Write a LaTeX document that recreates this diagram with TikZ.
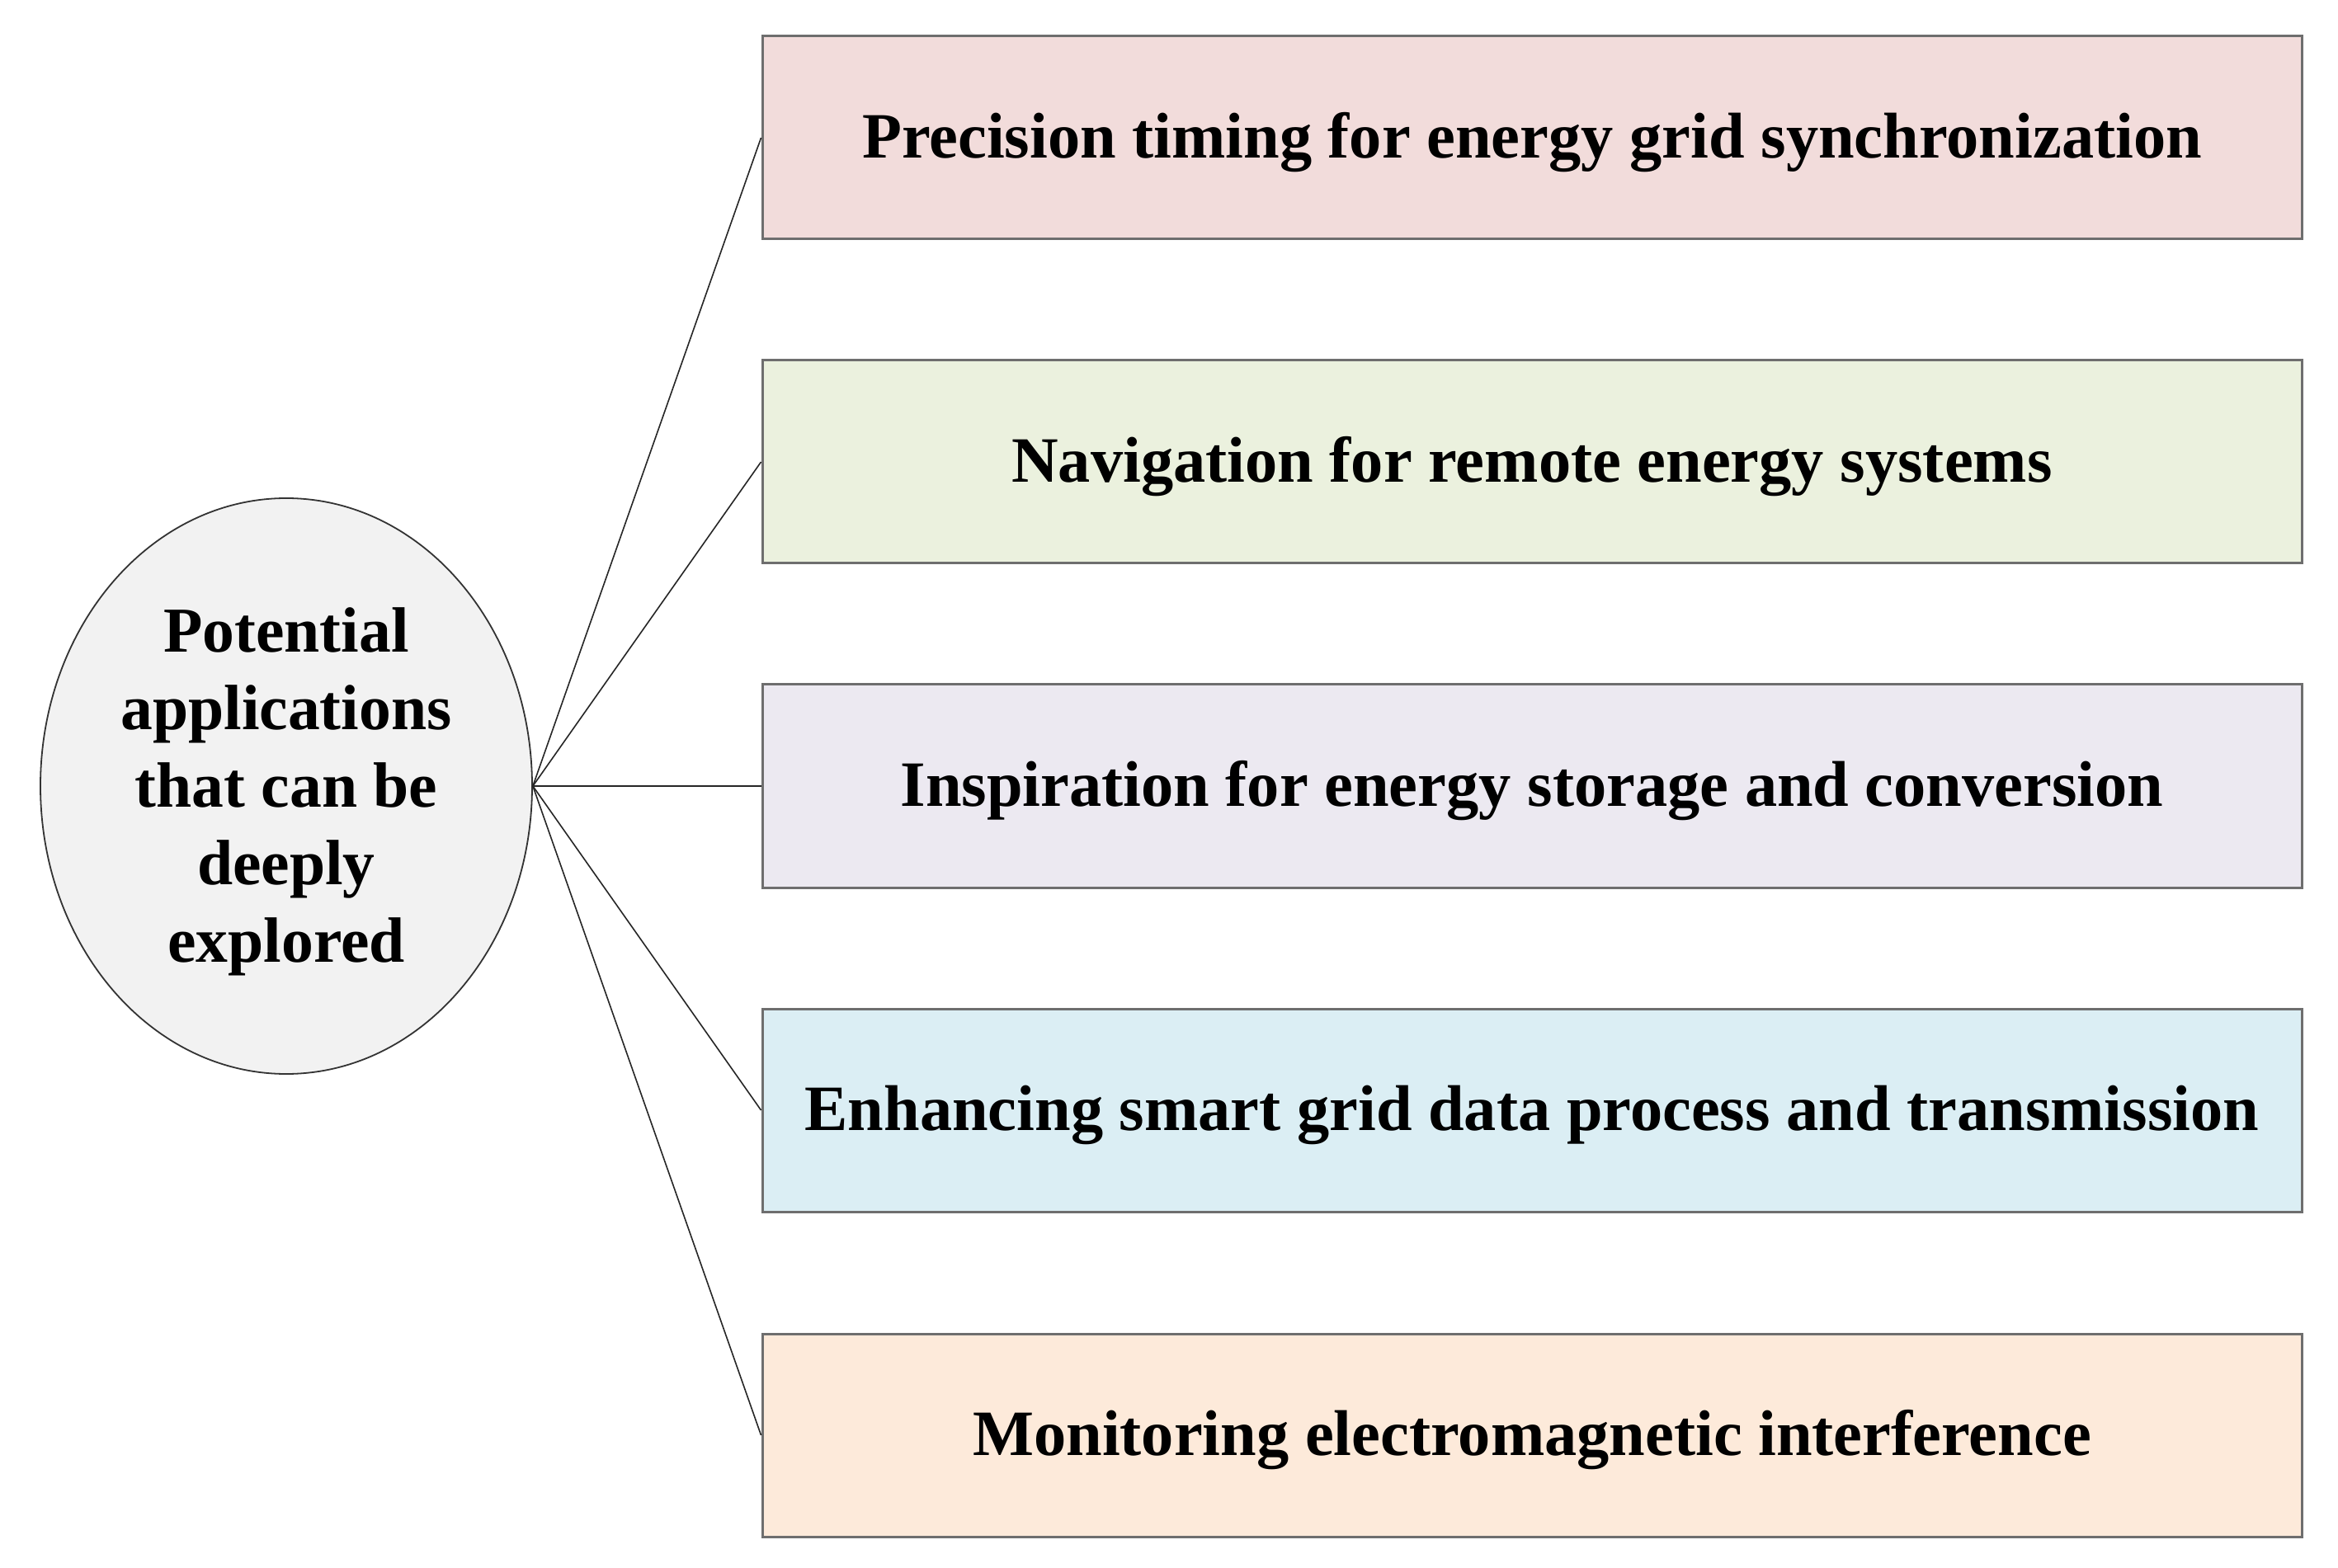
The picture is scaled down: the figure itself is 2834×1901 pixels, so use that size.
\documentclass[tikz,border=0pt]{standalone}
\usepackage{fontspec}
\setmainfont{Liberation Serif}
\usetikzlibrary{shapes.geometric}
\definecolor{bordergray}{HTML}{6E6E6E}
\definecolor{cpink}{HTML}{F2DCDB}
\definecolor{cgreen}{HTML}{EBF1DE}
\definecolor{clav}{HTML}{ECE9F1}
\definecolor{cblue}{HTML}{DBEEF4}
\definecolor{corange}{HTML}{FDEADA}
\definecolor{cgrey}{HTML}{F2F2F2}
\begin{document}
\begin{tikzpicture}[x=0.25pt,y=-0.25pt,
  appbox/.style={draw=bordergray,line width=0.75pt,rectangle,minimum width=466.5pt,minimum height=61.5pt,inner sep=0pt,text height=14pt,text depth=1.8pt,font=\fontsize{19.6}{23}\selectfont\bfseries},
  hub/.style={draw=black!80,line width=0.45pt,ellipse,fill=cgrey,minimum width=149pt,minimum height=174.5pt,inner sep=0pt},
  hubtext/.style={inner sep=0pt,align=center,font=\fontsize{19.4}{23.5}\selectfont\bfseries},
  link/.style={draw=black!85,line width=0.4pt}]
\useasboundingbox (0,0) rectangle (2834,1901);
\node[hub] (c) at (347,953) {};
\node[hubtext] (ct) at ([yshift=-1.6pt]c.center) {Potential\\applications\\that can be\\deeply\\explored};
\node[appbox,fill=cpink] (b1) at (1857,167) {Precision timing for energy grid synchronization};
\node[appbox,fill=cgreen] (b2) at (1857,560) {Navigation for remote energy systems};
\node[appbox,fill=clav] (b3) at (1857,953) {Inspiration for energy storage and conversion};
\node[appbox,fill=cblue] (b4) at (1857,1346) {Enhancing smart grid data process and transmission};
\node[appbox,fill=corange] (b5) at (1857,1740) {Monitoring electromagnetic interference};
\foreach \b in {b1,b2,b3,b4,b5}
  \draw[link] (c.east) -- (\b.west);
\end{tikzpicture}
\end{document}
